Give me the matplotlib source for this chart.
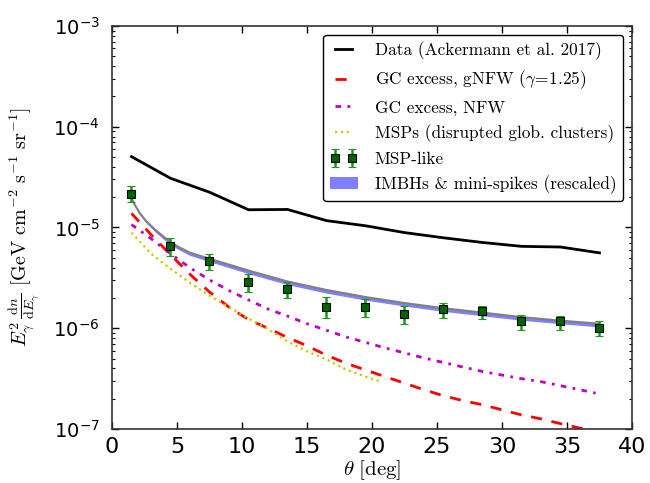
"""Gamma-ray profile vs angle from the Galactic Centre."""

import matplotlib

matplotlib.use("Agg")
import matplotlib.pyplot as plt
import numpy as np

# black data line (Ackermann et al. 2017)
theta_bins = [1.5, 4.5, 7.5, 10.5, 13.5, 16.5, 19.5, 22.5, 25.5, 28.5, 31.5, 34.5, 37.5]
data_flux = [5.05e-5, 3.08e-5, 2.24e-5, 1.50e-5, 1.51e-5, 1.17e-5, 1.04e-5,
             8.9e-6, 7.9e-6, 7.1e-6, 6.5e-6, 6.4e-6, 5.6e-6]

# MSP-like points with asymmetric errors
msp_like = [2.16e-5, 6.56e-6, 4.67e-6, 2.91e-6, 2.46e-6, 1.64e-6, 1.64e-6,
            1.39e-6, 1.55e-6, 1.47e-6, 1.17e-6, 1.17e-6, 1.00e-6]
msp_like_hi = [2.59e-5, 7.83e-6, 5.43e-6, 3.47e-6, 2.90e-6, 2.02e-6, 1.96e-6,
               1.68e-6, 1.80e-6, 1.67e-6, 1.36e-6, 1.33e-6, 1.19e-6]
msp_like_lo = [1.78e-5, 5.22e-6, 3.79e-6, 2.31e-6, 2.00e-6, 1.26e-6, 1.29e-6,
               1.10e-6, 1.26e-6, 1.23e-6, 9.5e-7, 9.6e-7, 8.4e-7]

# model curves
theta_model = [1.5, 3.0, 4.5, 6.0, 7.5, 9.0, 10.5, 12.0, 13.5, 15.0, 16.5, 18.0, 19.5,
               21.0, 22.5, 24.0, 25.5, 27.0, 28.5, 30.0, 31.5, 33.0, 34.5, 36.0, 37.5]
gnfw_flux = [1.38e-5, 8.5e-6, 5.37e-6, 3.43e-6, 2.29e-6, 1.62e-6, 1.22e-6, 1.0e-6,
             8.1e-7, 6.7e-7, 5.4e-7, 4.5e-7, 3.85e-7, 3.31e-7, 2.85e-7, 2.45e-7,
             2.14e-7, 1.91e-7, 1.74e-7, 1.55e-7, 1.38e-7, 1.26e-7, 1.13e-7, 1.02e-7, 9.3e-8]
theta_nfw = [1.5, 3.0, 4.5, 6.0, 7.5, 9.0, 10.5, 12.0, 13.5, 15.0, 16.5, 18.0, 19.5,
             21.0, 22.5, 24.0, 25.5, 27.0, 28.5, 30.0, 31.5, 33.0, 34.5, 36.0, 37.2]
nfw_flux = [1.07e-5, 7.76e-6, 5.5e-6, 3.98e-6, 3.02e-6, 2.37e-6, 1.91e-6, 1.55e-6,
            1.32e-6, 1.11e-6, 9.55e-7, 8.2e-7, 7.24e-7, 6.38e-7, 5.69e-7, 5.07e-7,
            4.57e-7, 4.12e-7, 3.72e-7, 3.43e-7, 3.16e-7, 2.95e-7, 2.69e-7, 2.45e-7, 2.27e-7]

theta_msp = [1.5, 3.0, 4.5, 6.0, 7.5, 9.0, 10.5, 12.0, 13.5, 15.0, 16.5, 18.0, 19.5, 20.5]
msp_flux = [8.9e-6, 5.5e-6, 3.89e-6, 2.82e-6, 2.11e-6, 1.62e-6, 1.25e-6, 9.8e-7,
            7.4e-7, 5.9e-7, 4.9e-7, 3.9e-7, 3.3e-7, 3.0e-7]

theta_imbh = [1.5, 1.75, 2.15, 2.65, 3.3, 4.1, 5.0, 6.0, 7.5, 10.5, 13.5, 16.5, 19.5,
              22.5, 25.5, 28.5, 31.5, 34.5, 37.5]
imbh_flux = [1.95e-5, 1.68e-5, 1.38e-5, 1.15e-5, 9.55e-6, 7.85e-6, 6.53e-6, 5.62e-6,
             4.90e-6, 3.74e-6, 2.91e-6, 2.40e-6, 2.04e-6, 1.78e-6, 1.58e-6, 1.43e-6,
             1.29e-6, 1.19e-6, 1.11e-6]
imbh_lo = [1.90e-5, 1.63e-5, 1.33e-5, 1.10e-5, 9.1e-6, 7.4e-6, 6.15e-6, 5.28e-6,
           4.58e-6, 3.48e-6, 2.71e-6, 2.23e-6, 1.90e-6, 1.66e-6, 1.47e-6, 1.33e-6,
           1.20e-6, 1.11e-6, 1.03e-6]
imbh_hi = [1.97e-5, 1.70e-5, 1.40e-5, 1.17e-5, 9.7e-6, 7.97e-6, 6.63e-6, 5.70e-6,
           4.97e-6, 3.80e-6, 2.96e-6, 2.44e-6, 2.08e-6, 1.81e-6, 1.61e-6, 1.46e-6,
           1.31e-6, 1.21e-6, 1.13e-6]

x_ticks = [0, 5, 10, 15, 20, 25, 30, 35, 40]


def main() -> None:
    fig = plt.figure(figsize=(6.5, 4.83), dpi=100)
    ax = fig.add_axes([0.1723, 0.1118, 0.80, 0.8344])

    ax.fill_between(theta_imbh, imbh_lo, imbh_hi, color="blue", alpha=0.5,
                    linewidth=0, label="IMBHs & mini-spikes (rescaled)")
    ax.plot(theta_imbh, imbh_flux, color="gray", linewidth=1.5, zorder=2)
    ax.plot(theta_bins, data_flux, color="black", linewidth=2,
            label="Data (Ackermann et al. 2017)")
    ax.plot(theta_model, gnfw_flux, "r--", linewidth=2, dashes=(4, 3.5),
            label=r"GC excess, gNFW ($\gamma\!=\!1.25$)")
    ax.plot(theta_nfw, nfw_flux, "m-.", linewidth=2, dashes=(2, 2.3, 1, 2.3),
            label="GC excess, NFW")
    ax.plot(theta_msp, msp_flux, ":", color="#c8c800", linewidth=1.6,
            label="MSPs (disrupted glob. clusters)")

    msp_arr = np.array(msp_like)
    yerr = [msp_arr - np.array(msp_like_lo), np.array(msp_like_hi) - msp_arr]
    ax.errorbar(theta_bins, msp_like, yerr=yerr, fmt="s", color="#1a9a1a",
                mfc="#006400", mec="black", mew=0.8, ms=6, elinewidth=1.8,
                capsize=3, capthick=1.5, label="MSP-like", zorder=4)

    ax.set_yscale("log")
    ax.set_xlim(0, 40)
    ax.set_ylim(1e-7, 1e-3)
    ax.set_xticks(x_ticks)
    ax.tick_params(which="both", direction="in", top=True, right=True)
    ax.tick_params(axis="y", labelsize=14, pad=9)
    ax.tick_params(axis="x", labelsize=16, pad=6)
    ax.tick_params(which="major", length=5, width=1)
    ax.tick_params(which="minor", length=2.5, width=0.8)
    for spine in ax.spines.values():
        spine.set_linewidth(1.2)
        spine.set_color("#333333")

    ax.set_ylabel(
        r"$E_\gamma^2\,\frac{\mathrm{d}n}{\mathrm{d}E_\gamma}\ "
        r"[\mathrm{GeV\ cm^{-2}\ s^{-1}\ sr^{-1}}]$",
        fontsize=14.5, math_fontfamily="cm", labelpad=8,
    )
    ax.set_xlabel(r"$\theta\ [\mathrm{deg}]$", fontsize=15, math_fontfamily="cm", labelpad=0.5)

    handles, labels = ax.get_legend_handles_labels()
    order = [1, 2, 3, 4, 5, 0]
    leg = ax.legend([handles[i] for i in order], [labels[i] for i in order],
                    loc="upper right", numpoints=2, fancybox=True, framealpha=1,
                    prop={"family": "cmr10", "size": 12.4}, labelspacing=0.5,
                    handlelength=1.6, handletextpad=1.0, borderaxespad=0.5)
    leg.get_frame().set_edgecolor("black")
    for text in leg.get_texts():
        text.set_math_fontfamily("cm")

    fig.savefig("out.png", dpi=100)
    plt.close(fig)


if __name__ == "__main__":
    main()
